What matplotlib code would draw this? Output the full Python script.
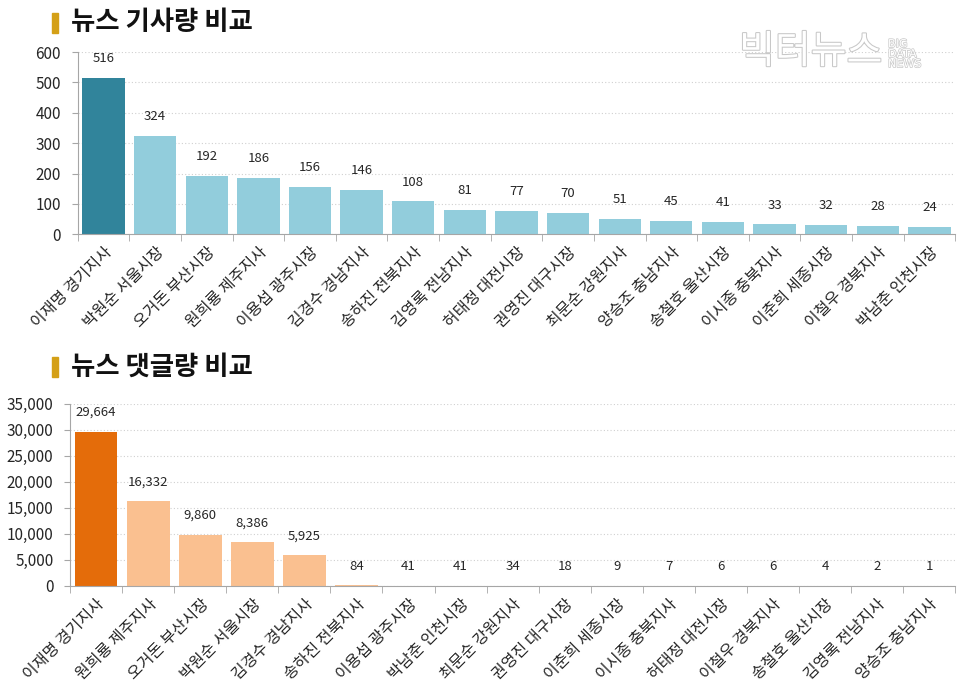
import matplotlib
matplotlib.use("Agg")
import matplotlib.pyplot as plt
import matplotlib.patches as patches
import matplotlib.patheffects as pe
from matplotlib.ticker import FuncFormatter, FixedLocator
import numpy as np

plt.rcParams['font.family'] = ['Noto Sans CJK KR', 'DejaVu Sans']

# 뉴스 기사량
article_names = ['이재명 경기지사', '박원순 서울시장', '오거돈 부산시장', '원희룡 제주지사',
                 '이용섭 광주시장', '김경수 경남지사', '송하진 전북지사', '김영록 전남지사',
                 '허태정 대전시장', '권영진 대구시장', '최문순 강원지사', '양승조 충남지사',
                 '송철호 울산시장', '이시종 충북지사', '이춘희 세종시장', '이철우 경북지사',
                 '박남춘 인천시장']
article_counts = [516, 324, 192, 186, 156, 146, 108, 81, 77, 70, 51, 45, 41, 33, 32, 28, 24]

# 뉴스 댓글량
comment_names = ['이재명 경기지사', '원희룡 제주지사', '오거돈 부산시장', '박원순 서울시장',
                 '김경수 경남지사', '송하진 전북지사', '이용섭 광주시장', '박남춘 인천시장',
                 '최문순 강원지사', '권영진 대구시장', '이춘희 세종시장', '이시종 충북지사',
                 '허태정 대전시장', '이철우 경북지사', '송철호 울산시장', '김영록 전남지사',
                 '양승조 충남지사']
comment_counts = [29664, 16332, 9860, 8386, 5925, 84, 41, 41, 34, 18, 9, 7, 6, 6, 4, 2, 1]

TEXT = '#262626'
AXIS = '#a6a6a6'


def draw_panel(ax, names, values, ymax, step, main_color, other_color):
    x = np.arange(len(values))
    colors = [main_color] + [other_color] * (len(values) - 1)
    ax.bar(x, values, width=0.82, color=colors, zorder=2)
    for xi, v in zip(x, values):
        ax.annotate(f'{v:,}', (xi, v), xytext=(0, 9), textcoords='offset points',
                    ha='center', va='bottom', fontsize=9.5, color=TEXT)
    ax.set_xlim(-0.5, len(values) - 0.5)
    ax.set_ylim(0, ymax)
    ax.set_yticks(np.arange(0, ymax + 1, step))
    ax.yaxis.set_major_formatter(FuncFormatter(lambda v, p: f'{int(v):,}'))
    ax.tick_params(axis='y', labelsize=11, colors=TEXT, length=4, color=AXIS, pad=8)
    ax.set_xticks(x)
    ax.set_xticklabels(names, rotation=45, ha='right', rotation_mode='anchor',
                       fontsize=11.5, color=TEXT)
    ax.tick_params(axis='x', length=0, pad=7)
    ax.xaxis.set_minor_locator(FixedLocator(np.arange(-0.5, len(values), 1.0)))
    ax.tick_params(axis='x', which='minor', length=5, color=AXIS)
    ax.grid(axis='y', linestyle=(0, (1, 2)), color='#d0d0d0', linewidth=0.8, zorder=0)
    for s in ['top', 'right']:
        ax.spines[s].set_visible(False)
    ax.spines['left'].set_color(AXIS)
    ax.spines['bottom'].set_color(AXIS)


fig = plt.figure(figsize=(9.6, 6.95), dpi=100)
fig.patch.set_facecolor('white')

ax1 = fig.add_axes([0.081, 0.663, 0.914, 0.262])
draw_panel(ax1, article_names, article_counts, 600, 100, '#31849b', '#92cddc')

ax2 = fig.add_axes([0.073, 0.157, 0.922, 0.262])
draw_panel(ax2, comment_names, comment_counts, 35000, 5000, '#e46c0a', '#fac090')

# titles with gold markers
for ytop, title in [(0.985, '뉴스 기사량 비교'), (0.49, '뉴스 댓글량 비교')]:
    fig.patches.append(patches.Rectangle((0.054, ytop - 0.032), 0.006, 0.028,
                                         transform=fig.transFigure, color='#d4a017'))
    fig.text(0.074, ytop - 0.018, title, fontsize=19, fontweight='bold',
             color='#111111', va='center', ha='left')

# watermark
fig.text(0.77, 0.925, '빅터뉴스', fontsize=28, color='white', ha='left', va='center',
         path_effects=[pe.withStroke(linewidth=1.5, foreground='#c8c8c8')])
fig.text(0.925, 0.922, 'BIG\nDATA\nNEWS', fontsize=8, color='white', ha='left', va='center',
         linespacing=1.0, family='DejaVu Sans',
         path_effects=[pe.withStroke(linewidth=1.0, foreground='#c8c8c8')])

fig.savefig('out.png', dpi=100, facecolor='white')
